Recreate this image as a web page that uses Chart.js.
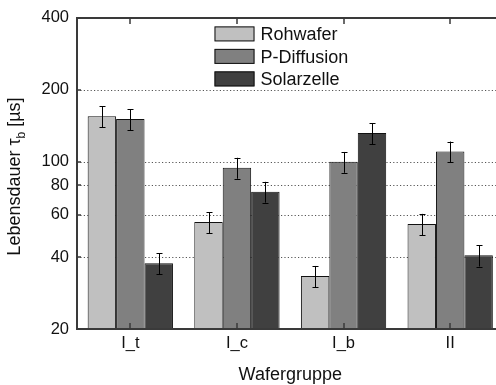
<!DOCTYPE html>
<html>
<head>
<meta charset="utf-8">
<script src="https://cdn.jsdelivr.net/npm/chart.js@4/dist/chart.umd.min.js"></script>
<style>
  html, body { margin: 0; padding: 0; background: #fff; overflow: hidden; }
  #wrap { width: 510px; height: 385px; }
</style>
</head>
<body>
<div id="wrap"><canvas id="c"></canvas></div>
<script>
// Wafer groups and measured bulk lifetimes (µs) with their uncertainties
const categories = ['I_t', 'I_c', 'I_b', 'II'];
const seriesNames = ['Rohwafer', 'P-Diffusion', 'Solarzelle'];
const rohwafer = [155, 56, 33.3, 55];
const pDiffusion = [151, 94.5, 100, 110.5];
const solarzelle = [37.7, 75, 132, 40.7];
const rohwaferErr = [15.7, 5.6, 3.4, 5.6];
const pDiffusionErr = [15.3, 9.5, 10, 11.1];
const solarzelleErr = [3.8, 7.5, 13.4, 4.2];
const yTicks = [20, 40, 60, 80, 100, 200, 400];
const gridValues = [40, 60, 80, 100, 200];

const FONT = '"Liberation Sans", Arial, Helvetica, sans-serif';
const AXIS_COLOR = '#3a3a3a';

// Frame, inner ticks and dotted grid drawn behind the bars
const framePlugin = {
  id: 'frame',
  beforeDatasetsDraw(chart) {
    const { ctx, chartArea: a, scales: { y } } = chart;
    ctx.save();
    ctx.strokeStyle = '#555';
    ctx.lineWidth = 1;
    ctx.setLineDash([1.2, 2.2]);
    gridValues.forEach(v => {
      const py = Math.round(y.getPixelForValue(v)) + 0.5;
      ctx.beginPath(); ctx.moveTo(a.left, py); ctx.lineTo(a.right, py); ctx.stroke();
    });
    ctx.restore();
  },
  afterDatasetsDraw(chart) {
    const { ctx, chartArea: a, scales: { x, y } } = chart;
    ctx.save();
    ctx.strokeStyle = AXIS_COLOR;
    ctx.lineWidth = 2;
    ctx.beginPath();
    ctx.moveTo(a.left, a.top); ctx.lineTo(a.right + 1, a.top);
    ctx.moveTo(a.left, a.top - 1); ctx.lineTo(a.left, a.bottom + 1);
    ctx.moveTo(a.left - 1, a.bottom); ctx.lineTo(a.right + 1, a.bottom);
    ctx.stroke();
    ctx.lineWidth = 1.5;
    ctx.beginPath();
    categories.forEach((c, i) => {
      const px = Math.round(x.getPixelForValue(i));
      ctx.moveTo(px, a.top); ctx.lineTo(px, a.top + 6);
      ctx.moveTo(px, a.bottom); ctx.lineTo(px, a.bottom - 6);
    });
    yTicks.forEach(v => {
      const py = Math.round(y.getPixelForValue(v));
      ctx.moveTo(a.left, py); ctx.lineTo(a.left + 4, py);
    });
    ctx.stroke();
    ctx.restore();
  }
};

// Symmetric error bars with caps
const errorBarPlugin = {
  id: 'errorBars',
  afterDatasetsDraw(chart) {
    const { ctx, scales: { y } } = chart;
    ctx.save();
    ctx.strokeStyle = '#000';
    ctx.lineWidth = 1;
    chart.data.datasets.forEach((ds, di) => {
      const meta = chart.getDatasetMeta(di);
      meta.data.forEach((bar, i) => {
        const v = ds.data[i], e = ds.errors[i];
        const px = Math.round(bar.x) + 0.5;
        const top = y.getPixelForValue(v + e);
        const bot = y.getPixelForValue(v - e);
        ctx.beginPath();
        ctx.moveTo(px, top); ctx.lineTo(px, bot);
        ctx.moveTo(px - 3, Math.round(top) + 0.5); ctx.lineTo(px + 3, Math.round(top) + 0.5);
        ctx.moveTo(px - 3, Math.round(bot) + 0.5); ctx.lineTo(px + 3, Math.round(bot) + 0.5);
        ctx.stroke();
      });
    });
    ctx.restore();
  }
};

// Legend inside the plot area and axis titles
const labelsPlugin = {
  id: 'labels',
  afterDraw(chart) {
    const { ctx, chartArea: a } = chart;
    ctx.save();
    // legend
    const lx = a.left + 137.5, ly = a.top + 8.5;
    chart.data.datasets.forEach((ds, i) => {
      const top = ly + i * 22.5;
      ctx.fillStyle = ds.backgroundColor;
      ctx.fillRect(lx, top, 40, 15);
      ctx.strokeStyle = '#111';
      ctx.lineWidth = 1;
      ctx.strokeRect(lx + 0.5, top + 0.5, 39, 14);
      ctx.fillStyle = '#111';
      ctx.font = '18px ' + FONT;
      ctx.textAlign = 'left';
      ctx.textBaseline = 'alphabetic';
      ctx.fillText(ds.label, lx + 46, top + 13.8);
    });
    // x title
    ctx.fillStyle = '#111';
    ctx.font = '18px ' + FONT;
    ctx.textAlign = 'center';
    ctx.textBaseline = 'alphabetic';
    ctx.fillText('Wafergruppe', (a.left + a.right) / 2, 379.5);
    // y title with subscript
    ctx.translate(19.5, 176.5);
    ctx.rotate(-Math.PI / 2);
    const big = '18px ' + FONT, small = '12px ' + FONT;
    const p1 = 'Lebensdauer \u03C4', p2 = 'b', p3 = ' [\u00B5s]';
    ctx.font = big; const w1 = ctx.measureText(p1).width, w3 = ctx.measureText(p3).width;
    ctx.font = small; const w2 = ctx.measureText(p2).width;
    let sx = -(w1 + w2 + w3) / 2;
    ctx.textAlign = 'left';
    ctx.font = big; ctx.fillText(p1, sx, 0); sx += w1;
    ctx.font = small; ctx.fillText(p2, sx, 5); sx += w2;
    ctx.font = big; ctx.fillText(p3, sx, 0);
    ctx.restore();
  }
};

const colors = ['#c0c0c0', '#808080', '#404040'];
const values = [rohwafer, pDiffusion, solarzelle];
const errs = [rohwaferErr, pDiffusionErr, solarzelleErr];

new Chart(document.getElementById('c'), {
  type: 'bar',
  data: {
    labels: categories,
    datasets: seriesNames.map((name, i) => ({
      label: name,
      data: values[i],
      errors: errs[i],
      backgroundColor: colors[i],
      borderColor: '#111',
      borderWidth: 1,
      categoryPercentage: 0.8,
      barPercentage: 1.0
    }))
  },
  options: {
    responsive: true,
    maintainAspectRatio: false,
    animation: false,
    layout: { padding: { left: 0, right: 6.5, top: 14, bottom: 0 } },
    plugins: { legend: { display: false }, tooltip: { enabled: false } },
    scales: {
      x: {
        grid: { display: false, drawTicks: false },
        border: { display: false },
        ticks: { color: '#111', font: { family: FONT, size: 16.5 }, padding: 5 },
        afterFit(s) { s.height = 56; }
      },
      y: {
        type: 'logarithmic',
        min: 20,
        max: 400,
        grid: { display: false, drawTicks: false },
        border: { display: false },
        afterBuildTicks(s) { s.ticks = yTicks.map(v => ({ value: v })); },
        ticks: {
          color: '#111',
          font: { family: FONT, size: 16.5 },
          padding: 8,
          autoSkip: false,
          callback: v => String(v)
        },
        afterFit(s) { s.width = 77; }
      }
    }
  },
  plugins: [framePlugin, errorBarPlugin, labelsPlugin]
});
</script>
</body>
</html>
